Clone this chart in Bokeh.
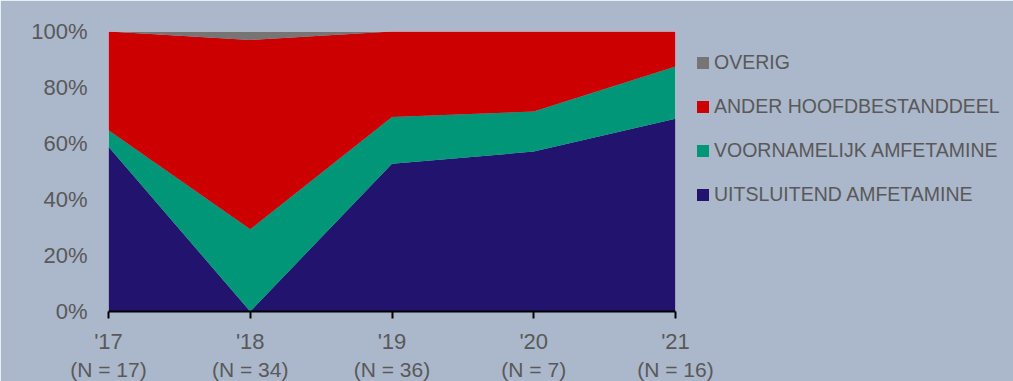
from bokeh.plotting import figure
from bokeh.models import ColumnDataSource, FixedTicker, LinearAxis, Legend, LegendItem, Range1d
from bokeh.embed import file_html
from bokeh.resources import INLINE

# ---- data ----
years = ["'17", "'18", "'19", "'20", "'21"]
n_labels = ["(N = 17)", "(N = 34)", "(N = 36)", "(N = 7)", "(N = 16)"]
uitsluitend = [58.8, 0.0, 52.8, 57.1, 68.8]
voornamelijk = [5.9, 29.4, 16.7, 14.3, 18.7]
ander = [35.3, 67.6, 30.5, 28.6, 12.5]
overig = [0.0, 3.0, 0.0, 0.0, 0.0]
series_names = ["UITSLUITEND AMFETAMINE", "VOORNAMELIJK AMFETAMINE",
                "ANDER HOOFDBESTANDDEEL", "OVERIG"]
y_ticks = [0, 20, 40, 60, 80, 100]
y_labels = ["0%", "20%", "40%", "60%", "80%", "100%"]

colors = ["#21136E", "#009677", "#CC0000", "#787474"]
BG = "#ABB7CA"
TXT = "#595959"
FONT = "Liberation Sans"

xs = list(range(len(years)))
src = ColumnDataSource(dict(x=xs, s0=uitsluitend, s1=voornamelijk, s2=ander, s3=overig))

p = figure(frame_width=567, frame_height=280, x_range=Range1d(0, len(years) - 1), y_range=Range1d(0, 100),
           output_backend="svg", toolbar_location=None,
           min_border_left=108, min_border_right=338, min_border_top=31, min_border_bottom=70)
p.background_fill_color = BG
p.border_fill_color = BG
p.outline_line_color = "#C9CDD6"
p.outline_line_width = 1
p.grid.visible = False

rs = p.varea_stack(stackers=["s0", "s1", "s2", "s3"], x="x", color=colors, source=src)

# y axis
ya = p.yaxis[0]
ya.ticker = FixedTicker(ticks=y_ticks)
ya.major_label_overrides = {t: l for t, l in zip(y_ticks, y_labels)}
ya.axis_line_color = None
ya.major_tick_line_color = None
ya.minor_tick_line_color = None
ya.major_tick_out = 0
ya.major_label_standoff = 21
ya.major_label_text_font = FONT
ya.major_label_text_font_size = "22px"
ya.major_label_text_color = TXT

# x axis (years)
xa = p.xaxis[0]
xa.ticker = FixedTicker(ticks=xs)
xa.major_label_overrides = {i: y for i, y in zip(xs, years)}
xa.axis_line_color = "black"
xa.axis_line_width = 2
xa.major_tick_line_color = "black"
xa.major_tick_line_width = 2
xa.major_tick_out = 7
xa.major_tick_in = 0
xa.minor_tick_line_color = None
xa.major_label_standoff = 10
xa.major_label_text_font = FONT
xa.major_label_text_font_size = "22px"
xa.major_label_text_color = TXT

# second x axis (N labels)
xa2 = LinearAxis(ticker=FixedTicker(ticks=xs),
                 major_label_overrides={i: n for i, n in zip(xs, n_labels)})
xa2.axis_line_color = None
xa2.major_tick_line_color = None
xa2.minor_tick_line_color = None
xa2.major_tick_out = 0
xa2.major_label_standoff = 1
xa2.major_label_text_font = FONT
xa2.major_label_text_font_size = "21px"
xa2.major_label_text_color = TXT
p.add_layout(xa2, "below")

items = [LegendItem(label=n, renderers=[r]) for n, r in zip(series_names, rs)][::-1]
legend = Legend(items=items, location="top_left")
legend.label_text_font = FONT
legend.label_text_font_size = "19.5px"
legend.label_text_color = TXT
legend.glyph_width = 15
legend.glyph_height = 15
legend.label_height = 15
legend.label_standoff = 4
legend.spacing = 21
legend.padding = 0
legend.margin = 20
legend.border_line_color = None
legend.background_fill_alpha = 0
p.add_layout(legend, "right")

open("out.html", "w").write(file_html(p, INLINE))
